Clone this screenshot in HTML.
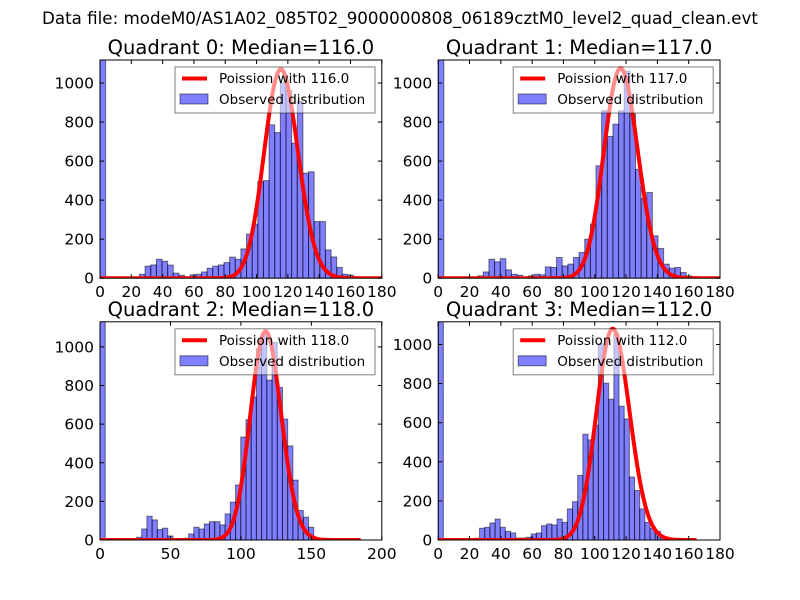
<!DOCTYPE html>
<html><head><meta charset="utf-8"><style>
body{margin:0;background:#fff;}
svg{display:block;font-family:"DejaVu Sans","Liberation Sans",sans-serif;}
</style></head><body>
<svg id="chart" width="800" height="600" viewBox="0 0 800 600">
<rect width="800" height="600" fill="#fff"/>
<text x="400" y="24" text-anchor="middle" font-size="16.7">Data file: modeM0/AS1A02_085T02_9000000808_06189cztM0_level2_quad_clean.evt</text>
</svg>
<script>
// ---- data ----
const quadrantNames = ["Quadrant 0", "Quadrant 1", "Quadrant 2", "Quadrant 3"];
const medians = [116.0, 117.0, 118.0, 112.0];
const binMax = [180, 180, 185, 165];
const xMax = [180, 180, 200, 180];
const yMax = [1118, 1118, 1130, 1116];
const curvePeak = [1070, 1075, 1080, 1080];
const xTickLabels0 = [0,20,40,60,80,100,120,140,160,180];
const xTickLabels1 = [0,20,40,60,80,100,120,140,160,180];
const xTickLabels2 = [0,50,100,150,200];
const xTickLabels3 = [0,20,40,60,80,100,120,140,160,180];
const yTickLabels = [0,200,400,600,800,1000];
const counts0 = [1200,0,0,0,0,0,0,20,62,68,97,87,67,26,15,3,17,20,32,51,62,68,80,108,97,150,226,277,494,500,786,746,1000,960,692,906,538,545,290,290,145,109,55,20,15,0,0,0,0,0];
const counts1 = [1200,0,0,0,0,0,0,12,32,97,84,100,43,20,15,0,12,20,17,58,55,106,63,72,106,132,200,277,576,858,726,789,858,1060,841,558,408,439,217,152,72,51,55,29,12,0,0,0,0,0];
const counts2 = [1200,0,0,0,0,0,0,14,57,123,104,54,61,21,3,0,9,31,66,57,83,95,95,78,135,196,285,533,623,741,990,1070,828,1023,790,626,487,310,153,118,66,9,5,0,0,0,0,0,0,0];
const counts3 = [1200,0,0,0,0,0,0,9,60,65,87,107,65,44,36,10,10,14,31,36,73,82,77,107,90,159,196,330,541,512,587,1003,802,720,1054,684,619,322,253,159,90,60,44,14,5,0,0,0,0,0];

const allCounts = [counts0, counts1, counts2, counts3];
const allXTicks = [xTickLabels0, xTickLabels1, xTickLabels2, xTickLabels3];
const NS = "http://www.w3.org/2000/svg";
const svg = document.getElementById("chart");
function mk(tag, attrs, parent) {
  const e = document.createElementNS(NS, tag);
  for (const k in attrs) e.setAttribute(k, attrs[k]);
  (parent || svg).appendChild(e);
  return e;
}
const boxes = [[100,60],[438.2,60],[100,321.8],[438.2,321.8]];
const W = 281.8, H = 218.2;
function logPois(k, lam) {
  let lg = 0; for (let j = 2; j <= k; j++) lg += Math.log(j);
  return k * Math.log(lam) - lam - lg;
}
for (let p = 0; p < 4; p++) {
  const L = boxes[p][0], T = boxes[p][1];
  const xs = v => L + v / xMax[p] * W;
  const ys = v => T + H - v / yMax[p] * H;
  const g = mk("g", {});
  
  
  const cp = mk("clipPath", {id: "clip" + p}, g);
  mk("rect", {x: L, y: T, width: W, height: H}, cp);
  const bars = mk("g", {"clip-path": "url(#clip" + p + ")"}, g);
  
  
  const counts = allCounts[p];
  const bw = binMax[p] / counts.length;
  counts.forEach((c, i) => {
    if (c <= 0) return;
    const x0 = xs(i * bw), x1 = xs((i + 1) * bw);
    const r = mk("rect", {x: x0, y: ys(c), width: x1 - x0, height: ys(0) - ys(c), fill: "#0000ff", "fill-opacity": 0.5, stroke: "#000", "stroke-opacity": 0.5, "stroke-width": 1}, bars);
    
    
  });
  // poisson curve
  const lam = medians[p];
  const peakLog = logPois(Math.floor(lam), lam);
  let d = "";
  for (let k = 0; k <= Math.floor(binMax[p]); k++) {
    const v = curvePeak[p] * Math.exp(logPois(k, lam) - peakLog);
    d += (k ? "L" : "M") + xs(k).toFixed(2) + "," + ys(v).toFixed(2);
  }
  const path = mk("path", {d: d, fill: "none", stroke: "#ff0000", "stroke-width": 4, "clip-path": "url(#clip" + p + ")"}, g);
  
  
  // legend
  const lg = mk("g", {}, g);
  
  
  const lx = L + 75, ly = T + 7;
  mk("rect", {x: lx, y: ly, width: 200, height: 46, fill: "#fff", "fill-opacity": 0.55, stroke: "#000", "stroke-opacity": 0.5, "stroke-width": 1}, lg);
  mk("line", {x1: lx + 7, x2: lx + 32, y1: ly + 11.5, y2: ly + 11.5, stroke: "#ff0000", "stroke-width": 4}, lg);
  mk("rect", {x: lx + 5, y: ly + 27, width: 28, height: 10, fill: "#0000ff", "fill-opacity": 0.5, stroke: "#000", "stroke-opacity": 0.5}, lg);
  const t1 = mk("text", {x: lx + 44, y: ly + 16, "font-size": 13.5}, lg);
  t1.textContent = "Poission with " + lam.toFixed(1);
  
  
  const t2 = mk("text", {x: lx + 44, y: ly + 37, "font-size": 13.5}, lg);
  t2.textContent = "Observed distribution";
  
  
  // frame
  const fr = mk("rect", {x: L, y: T, width: W, height: H, fill: "none", stroke: "#000", "stroke-width": 1}, g);
  
  
  // x ticks
  allXTicks[p].forEach(v => {
    if (v > xMax[p]) return;
    const x = xs(v);
    mk("line", {x1: x, x2: x, y1: T + H, y2: T + H - 4, stroke: "#000"}, g);
    mk("line", {x1: x, x2: x, y1: T, y2: T + 4, stroke: "#000"}, g);
    const t = mk("text", {x: x, y: T + H + 19, "text-anchor": "middle", "font-size": 15.5}, g);
    t.textContent = v;
    
    
  });
  yTickLabels.forEach(v => {
    const y = ys(v);
    mk("line", {x1: L, x2: L + 4, y1: y, y2: y, stroke: "#000"}, g);
    mk("line", {x1: L + W, x2: L + W - 4, y1: y, y2: y, stroke: "#000"}, g);
    const t = mk("text", {x: L - 6, y: y + 5.5, "text-anchor": "end", "font-size": 15.5}, g);
    t.textContent = v;
    
    
  });
  const tt = mk("text", {x: L + W / 2, y: T - 6, "text-anchor": "middle", "font-size": 19.5}, g);
  tt.textContent = quadrantNames[p] + ": Median=" + medians[p].toFixed(1);
  
  
}
</script>
</body></html>
